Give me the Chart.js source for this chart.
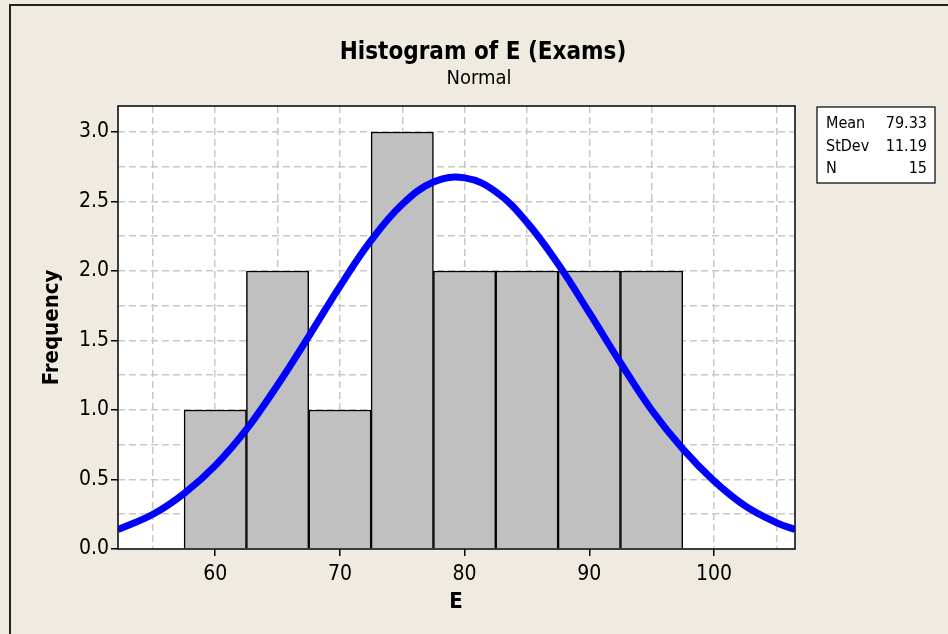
<!DOCTYPE html>
<html>
<head>
<meta charset="utf-8">
<script src="https://cdn.jsdelivr.net/npm/chart.js@4.4.0/dist/chart.umd.min.js"></script>
<style>
  html, body { margin: 0; padding: 0; background: #efebe1; }
  #wrap { position: relative; width: 948px; height: 634px; }
  canvas { display: block; }
</style>
</head>
<body>
<div id="wrap"><canvas id="c" width="948" height="634"></canvas></div>
<script>
// ---- data ----
const binCenters = [60, 65, 70, 75, 80, 85, 90, 95];
const frequencies = [1, 2, 1, 3, 2, 2, 2, 2];
const curveX = [52.2, 55, 57.5, 60, 62.5, 65, 67.5, 70, 72.5, 75, 77.5, 80, 82.5, 85, 87.5, 90, 92.5, 95, 97.5, 100, 102.5, 105, 106.5];
const curveY = [0.14, 0.25, 0.40, 0.60, 0.86, 1.18, 1.53, 1.89, 2.22, 2.48, 2.64, 2.67, 2.57, 2.35, 2.05, 1.70, 1.34, 1.00, 0.72, 0.49, 0.31, 0.19, 0.14];
const xTickLabels = [60, 70, 80, 90, 100];
const yTickLabels = [0.0, 0.5, 1.0, 1.5, 2.0, 2.5, 3.0];
const statsLabels = ['Mean', 'StDev', 'N'];
const statsValues = ['79.33', '11.19', '15'];
const titleText = 'Histogram of E (Exams)';
const subtitleText = 'Normal';
const xTitle = 'E';
const yTitle = 'Frequency';

const FONT = '"DejaVu Sans Condensed", "DejaVu Sans", sans-serif';

const decor = {
  id: 'decor',
  beforeDraw(chart) {
    const ctx = chart.ctx;
    const a = chart.chartArea;
    ctx.save();
    ctx.fillStyle = '#efebe1';
    ctx.fillRect(0, 0, chart.width, chart.height);
    ctx.fillStyle = '#ffffff';
    ctx.fillRect(a.left, a.top, a.right - a.left, a.bottom - a.top);
    ctx.restore();
  },
  afterDraw(chart) {
    const ctx = chart.ctx;
    const a = chart.chartArea;
    ctx.save();
    // outer frame
    ctx.strokeStyle = '#222';
    ctx.lineWidth = 2;
    ctx.beginPath();
    ctx.moveTo(10, chart.height);
    ctx.lineTo(10, 5);
    ctx.lineTo(chart.width, 5);
    ctx.stroke();
    // plot frame
    ctx.lineWidth = 1.5;
    ctx.strokeStyle = '#000';
    ctx.strokeRect(a.left, a.top, a.right - a.left, a.bottom - a.top);
    // titles
    ctx.fillStyle = '#000';
    ctx.textAlign = 'center';
    ctx.textBaseline = 'middle';
    ctx.font = 'bold 24px ' + FONT;
    ctx.fillText(titleText, 483, 53);
    ctx.font = '20px ' + FONT;
    ctx.fillText(subtitleText, 479, 79);
    // axis titles
    ctx.font = 'bold 22px ' + FONT;
    ctx.fillText(xTitle, 456, 602);
    ctx.save();
    ctx.translate(52, (a.top + a.bottom) / 2);
    ctx.rotate(-Math.PI / 2);
    ctx.fillText(yTitle, 0, 0);
    ctx.restore();
    // stats box
    ctx.lineWidth = 1.2;
    ctx.strokeStyle = '#000';
    ctx.fillStyle = '#ffffff';
    ctx.fillRect(817, 107, 118, 76);
    ctx.strokeRect(817, 107, 118, 76);
    ctx.fillStyle = '#000';
    ctx.font = '16px ' + FONT;
    ctx.textBaseline = 'middle';
    for (let i = 0; i < statsLabels.length; i++) {
      const y = 124 + i * 22.5;
      ctx.textAlign = 'left';
      ctx.fillText(statsLabels[i], 826, y);
      ctx.textAlign = 'right';
      ctx.fillText(statsValues[i], 927, y);
    }
    ctx.restore();
  }
};

new Chart(document.getElementById('c'), {
  data: {
    datasets: [
      {
        type: 'line',
        data: curveX.map((x, i) => ({ x: x, y: curveY[i] })),
        borderColor: '#0000ff',
        borderWidth: 7,
        pointRadius: 0,
        tension: 0.4,
        order: 0
      },
      {
        type: 'bar',
        data: binCenters.map((x, i) => ({ x: x, y: frequencies[i] })),
        backgroundColor: '#c0c0c0',
        borderColor: '#000000',
        borderWidth: 1.5,
        barPercentage: 1,
        categoryPercentage: 1,
        order: 1
      }
    ]
  },
  options: {
    responsive: false,
    animation: false,
    layout: { padding: { left: 0, top: 106, right: 153, bottom: 0 } },
    plugins: { legend: { display: false }, tooltip: { enabled: false }, title: { display: false } },
    scales: {
      x: {
        type: 'linear',
        offset: false,
        min: 52.2,
        max: 106.5,
        afterBuildTicks(scale) {
          const t = [];
          for (let v = 55; v <= 105; v += 5) t.push({ value: v });
          scale.ticks = t;
        },
        afterFit(scale) { scale.height = 85; },
        ticks: {
          color: '#000',
          font: { family: FONT, size: 21 },
          padding: 6,
          maxRotation: 0,
          autoSkip: false,
          callback: (v) => xTickLabels.includes(v) ? String(v) : ''
        },
        grid: {
          offset: false,
          color: '#c8c8c8',
          lineWidth: 1.5,
          drawTicks: true,
          tickLength: 7,
          tickColor: (c) => (c.tick && xTickLabels.includes(c.tick.value)) ? '#000' : 'rgba(0,0,0,0)',
          tickWidth: 1.5,
          tickBorderDash: [],
        },
        border: { display: false, dash: [7, 4] },
        title: { display: false }
      },
      y: {
        type: 'linear',
        min: 0,
        max: 3.187,
        afterBuildTicks(scale) {
          const t = [];
          for (let v = 0; v <= 3.0001; v += 0.25) t.push({ value: Math.round(v * 100) / 100 });
          scale.ticks = t;
        },
        afterFit(scale) { scale.width = 118; },
        ticks: {
          color: '#000',
          font: { family: FONT, size: 21 },
          padding: 2,
          autoSkip: false,
          callback: (v) => yTickLabels.includes(v) ? v.toFixed(1) : ''
        },
        grid: {
          color: (c) => (c.tick && c.tick.value === 0) ? 'rgba(0,0,0,0)' : '#c8c8c8',
          lineWidth: 1.5,
          drawTicks: true,
          tickLength: 7,
          tickColor: (c) => (c.tick && yTickLabels.includes(c.tick.value)) ? '#000' : 'rgba(0,0,0,0)',
          tickWidth: 1.5,
          tickBorderDash: [],
        },
        border: { display: false, dash: [7, 4] },
        title: { display: false }
      }
    }
  },
  plugins: [decor]
});
</script>
</body>
</html>
